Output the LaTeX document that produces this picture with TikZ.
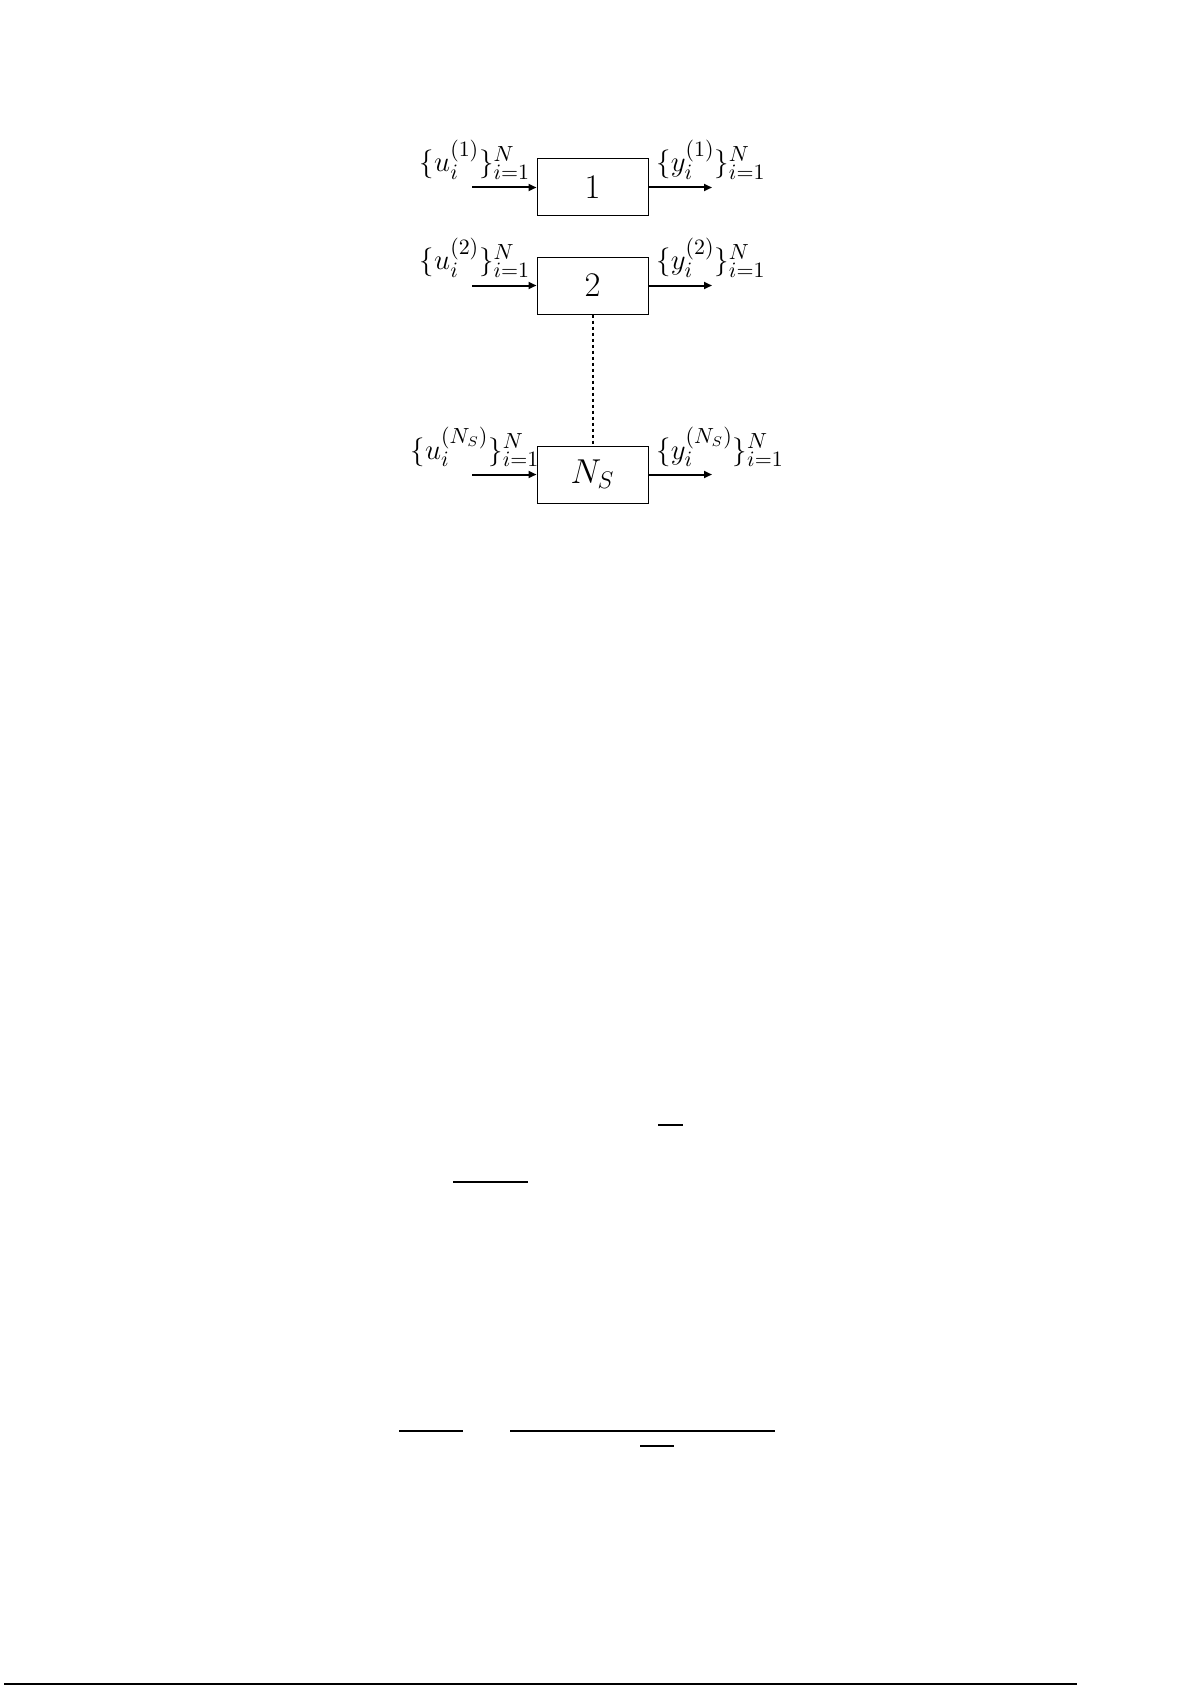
\documentclass[tikz,border=0pt]{standalone}
\usetikzlibrary{arrows.meta}

\tikzset{
    block/.style={draw, line width=0.5pt, minimum width=55.5pt, minimum height=28.5pt, inner sep=0pt, font=\LARGE},
    sig/.style={font=\fontsize{15}{18}\selectfont, inner sep=0pt},
    flow/.style={line width=1pt, -{Triangle[length=4pt, width=3.5pt]}},
    rule/.style={line width=0.6pt}
}

\begin{document}
\begin{tikzpicture}[x=0.5pt, y=-0.5pt]

            \useasboundingbox (0, 0) rectangle (1192, 1685);

            % Subsystem 1
            %% Block
            \node [block] (sys1) at (592.5, 187.5) {\(1\)};

            %% Signals
            \coordinate (in1) at (472, 187.5);
            \coordinate (out1) at (712, 187.5);
            \draw [flow] (in1) -- (sys1.west);
            \draw [flow] (sys1.east) -- (out1);

            %% Labels
            \node [sig, anchor=base] (u1) at (475, 172) {\(\{u_i^{(1)}\}_{i=1}^N\)};
            \node [sig, anchor=base west] (y1) at (656, 172) {\(\{y_i^{(1)}\}_{i=1}^N\)};

            % Subsystem 2
            %% Block
            \node [block] (sys2) at (592.5, 285.5) {\(2\)};

            %% Signals
            \coordinate (in2) at (472, 285.5);
            \coordinate (out2) at (712, 285.5);
            \draw [flow] (in2) -- (sys2.west);
            \draw [flow] (sys2.east) -- (out2);

            %% Labels
            \node [sig, anchor=base] (u2) at (475, 270) {\(\{u_i^{(2)}\}_{i=1}^N\)};
            \node [sig, anchor=base west] (y2) at (656, 270) {\(\{y_i^{(2)}\}_{i=1}^N\)};

            % Subsystem N_S
            %% Block
            \node [block] (sysN) at (592.5, 474.5) {\(N_S\)};

            %% Signals
            \coordinate (inN) at (472, 474.5);
            \coordinate (outN) at (712, 474.5);
            \draw [flow] (inN) -- (sysN.west);
            \draw [flow] (sysN.east) -- (outN);

            %% Labels
            \node [sig, anchor=base] (uN) at (475, 459) {\(\{u_i^{(N_S)}\}_{i=1}^N\)};
            \node [sig, anchor=base west] (yN) at (656, 459) {\(\{y_i^{(N_S)}\}_{i=1}^N\)};

            %% Omitted subsystems
            \draw [line width=1pt, dash pattern=on 1.8pt off 1.2pt] (sys2.south) -- (sysN.north);

            % Leftover rules
            \draw [rule] (658, 1125) -- (683, 1125);
            \draw [rule] (453, 1182) -- (528, 1182);
            \draw [rule] (399, 1431) -- (463, 1431);
            \draw [rule] (510, 1431) -- (775, 1431);
            \draw [rule] (640, 1446) -- (674, 1446);
            \draw [line width=1pt] (4, 1684) -- (1077, 1684);
        \end{tikzpicture}
\end{document}
